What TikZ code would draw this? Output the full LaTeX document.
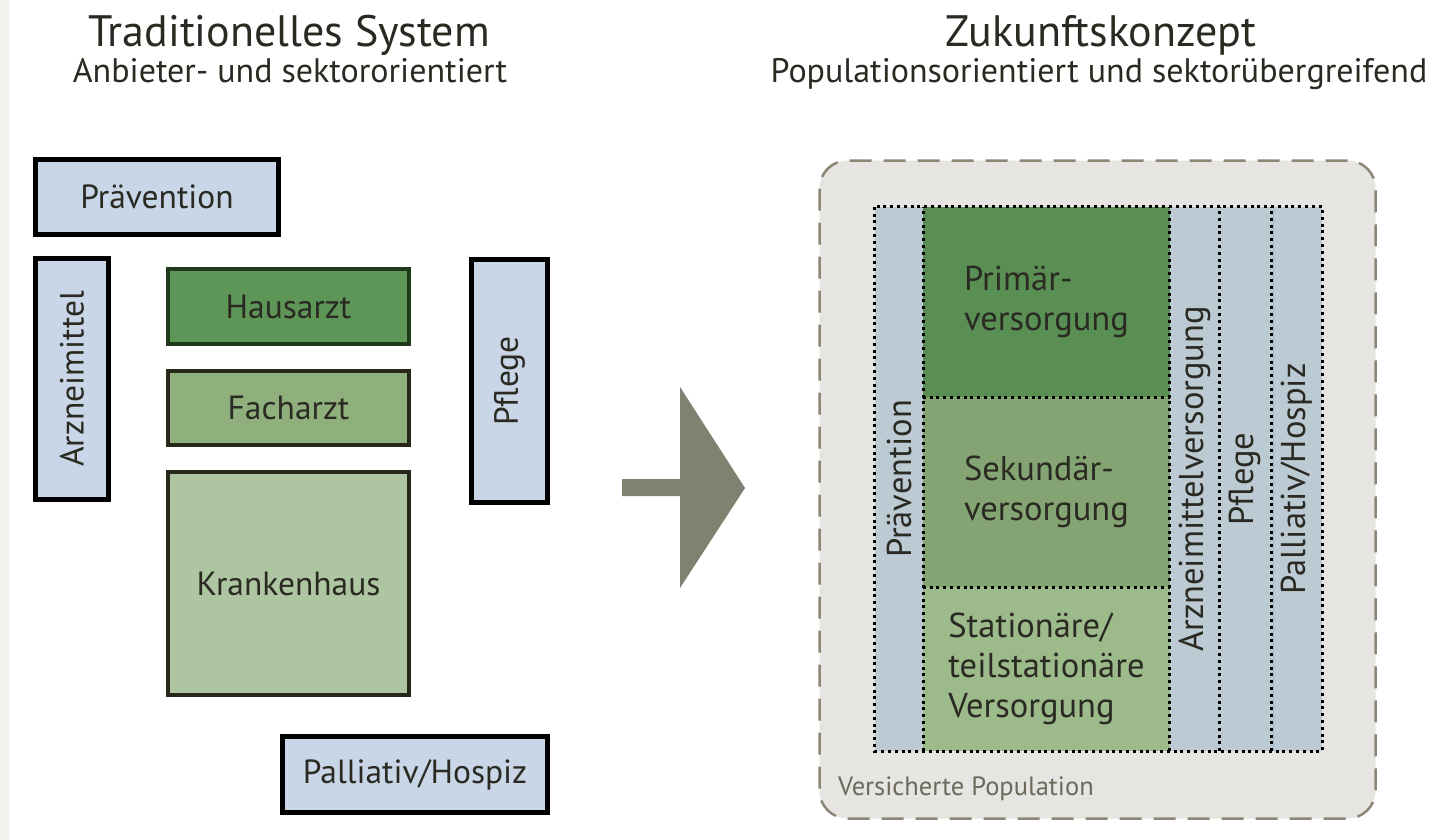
\documentclass[tikz,border=0pt]{standalone}
\usepackage{fontspec}
\setmainfont{PT Sans}
\begin{document}
\definecolor{boxblue}{HTML}{C9D6E7}
\definecolor{colblue}{HTML}{BCCAD4}
\definecolor{hausgreen}{HTML}{5E9658}
\definecolor{hausedge}{HTML}{1E3A1A}
\definecolor{fachgreen}{HTML}{8FB07D}
\definecolor{khgreen}{HTML}{AEC5A1}
\definecolor{greenedge}{HTML}{27271A}
\definecolor{primgreen}{HTML}{598F53}
\definecolor{sekgreen}{HTML}{84A573}
\definecolor{statgreen}{HTML}{9DBA8B}
\definecolor{popgray}{HTML}{E6E5E1}
\definecolor{dashgray}{HTML}{8C8774}
\definecolor{arrowgray}{HTML}{7F8270}
\definecolor{textdark}{HTML}{2A2A22}
\definecolor{popgraytext}{HTML}{6B6A5C}
\definecolor{pageedge}{HTML}{F2F2EC}
\definecolor{seamblue}{HTML}{9FB4D2}
\begin{tikzpicture}[x=1pt,y=-1pt,
  every node/.style={text=textdark, inner sep=0pt},
  titlefont/.style={font=\fontsize{44}{50}\selectfont},
  subfont/.style={font=\fontsize{34}{40}\selectfont},
  lbl/.style={font=\fontsize{33.5}{40}\selectfont},
  collbl/.style={font=\fontsize{34.5}{40}\selectfont},
  bluebox/.style={lbl, draw=black, line width=5pt, fill=boxblue},
  greenbox/.style={lbl, draw=greenedge, line width=4pt},
  colbox/.style={collbl, fill=colblue, rotate=90, minimum width=544pt, minimum height=48pt},
  rowbox/.style={collbl, align=left, minimum width=247pt},
  dotline/.style={black, line width=3pt, dash pattern=on 3pt off 3.8pt},
]
\useasboundingbox (0,0) rectangle (1432,840);
\fill[white] (0,0) rectangle (1432,840);
\fill[pageedge] (0,0) rectangle (9,840);

% headings
\node[titlefont, anchor=base] (t1) at (289,47) {Traditionelles System};
\node[subfont, anchor=base] (s1) at (290,83) {Anbieter- und sektororientiert};
\node[titlefont, anchor=base] (t2) at (1101,47) {Zukunftskonzept};
\node[subfont, anchor=base] (s2) at (1099,83) {Populationsorientiert und sektorübergreifend};

% traditional system: separate provider boxes
\node[bluebox, minimum width=243pt, minimum height=75pt] (prae) at (157,197) {Prävention};
\node[bluebox, rotate=90, minimum width=241pt, minimum height=73pt] (arz) at (72,379) {Arzneimittel};
\node[greenbox, draw=hausedge, fill=hausgreen, minimum width=241pt, minimum height=75pt] (haus) at (288.5,306.5) {Hausarzt};
\node[greenbox, fill=fachgreen, minimum width=241pt, minimum height=74pt] (fach) at (288.5,408) {Facharzt};
\node[greenbox, fill=khgreen, minimum width=241pt, minimum height=223pt] (kh) at (288.5,583.5) {Krankenhaus};
\node[bluebox, rotate=90, minimum width=243pt, minimum height=76pt] (pfl) at (509.5,381) {Pflege};
\node[bluebox, minimum width=265pt, minimum height=76pt] (pal) at (415,774.5) {Palliativ/Hospiz};

% transition arrow
\fill[arrowgray] (622,479) -- (680,479) -- (680,387) -- (745,488) -- (680,588)
  -- (680,496) -- (622,496) -- cycle;

% future concept: insured population
\node[draw=dashgray, line width=2.5pt, dash pattern=on 22pt off 12pt, fill=popgray,
  rounded corners=28pt, minimum width=556pt, minimum height=658pt] (pop) at (1097.5,489.5) {};
\node[font=\fontsize{26.5}{30}\selectfont, text=popgraytext, anchor=base west] (popl) at (838,795) {Versicherte Population};

% cross-sector columns (rotated: local north points left, local east points up)
\node[colbox] (cprae) at (899,479) {Prävention};
\node[colbox, minimum height=49pt] (carz) at (1194.5,479) {Arzneimittelversorgung};
\node[colbox, minimum height=52pt] (cpfl) at (1245,479) {Pflege};
\node[colbox, minimum height=51pt] (cpal) at (1296.5,479) {Palliativ/Hospiz};

% care levels
\node[rowbox, fill=primgreen, minimum height=190pt] (prim) at (1046.5,302) {Primär-\\versorgung};
\node[rowbox, fill=sekgreen, minimum height=190pt] (sek) at (1046.5,492) {Sekundär-\\versorgung};
\node[rowbox, fill=statgreen, minimum height=164pt] (stat) at (1046.5,669) {Stationäre/\\teilstationäre\\Versorgung};

% dotted separators
\draw[seamblue, line width=1pt] ([xshift=2pt]cpfl.south west) -- ([xshift=2pt]cpfl.south east);
\draw[dotline] (cprae.north east) rectangle (cpal.south west);
\draw[dotline] (cprae.south west) -- (cprae.south east);
\draw[dotline] (carz.north west) -- (carz.north east);
\draw[dotline] (carz.south west) -- (carz.south east);
\draw[dotline] (cpfl.south west) -- (cpfl.south east);
\draw[dotline] (prim.south west) -- (prim.south east);
\draw[dotline] (sek.south west) -- (sek.south east);
\end{tikzpicture}
\end{document}
